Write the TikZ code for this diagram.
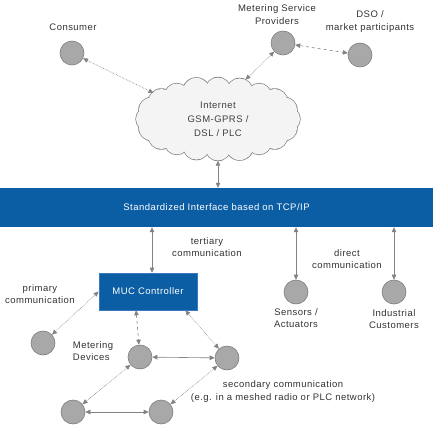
\documentclass[tikz,border=0pt]{standalone}
\usepackage{fontspec}
\setmainfont[LetterSpace=5]{Liberation Sans}
\usetikzlibrary{arrows.meta,shapes.geometric}

\definecolor{barblue}{RGB}{11,93,164}
\definecolor{boxline}{RGB}{60,120,190}
\definecolor{dotfill}{RGB}{168,168,168}
\definecolor{dotline}{RGB}{125,125,125}
\definecolor{linkgray}{RGB}{130,130,130}
\definecolor{labelgray}{RGB}{50,50,50}
\definecolor{cloudfill}{RGB}{244,244,244}

\tikzset{
  party/.style={circle,draw=dotline,fill=dotfill,line width=0.6pt,minimum size=24pt,inner sep=0pt},
  lbl/.style={font=\fontsize{9.5}{12.5}\selectfont,text=labelgray,align=center,inner sep=0.75pt},
  link/.style={draw=linkgray,line width=0.6pt,{Triangle[length=5pt,width=4.5pt]}-{Triangle[length=5pt,width=4.5pt]}},
  weak/.style={link,densely dotted},
}
\newcommand\cloudpuffs{0/12,18/12.5,36/13,54/12,72/13.5,90/12.5,108/13,126/12,144/13,162/12.5,
    180/12,198/12.5,216/13,234/12,252/13.5,270/12.5,288/13,306/12,324/13,342/12.5}

\begin{document}
\begin{tikzpicture}[x=1pt,y=1pt,yscale=-1,xscale=1]
\useasboundingbox (0,0) rectangle (433,439);

% Cloud: gray puffs, then slightly smaller light puffs on top
\foreach \a/\r in \cloudpuffs
  \fill [gray] (218,119) ++(\a:70 and 29) circle ({\r+0.7});
\foreach \a/\r in \cloudpuffs
  \fill [cloudfill] (218,119) ++(\a:70 and 29) circle (\r);
\fill [cloudfill] (218,119) ellipse (72 and 31);
\node [ellipse,minimum width=165pt,minimum height=83pt,inner sep=0pt,
       lbl,text=black!75,font=\fontsize{9.5}{14}\selectfont] (cloud) at (218,119)
      {Internet\\GSM-GPRS /\\DSL / PLC};

% Standardized interface bar
\node [fill=barblue,minimum width=433pt,minimum height=39pt,inner sep=0pt,
       text=white,font=\fontsize{9.5}{12}\selectfont] (bar) at (216.5,207.5)
      {Standardized Interface based on TCP/IP};

% MUC controller
\node [fill=barblue,draw=boxline,line width=0.6pt,minimum width=98pt,minimum height=37pt,
       inner sep=0pt,text=white,font=\fontsize{9.5}{12}\selectfont] (muc) at (148,291.5)
      {MUC Controller};

% Parties
\node [party] (cons) at (72,53) {};
\node [party] (msp)  at (283,43) {};
\node [party] (dso)  at (360,55) {};
\node [party] (sens) at (296,292) {};
\node [party] (indu) at (394,292) {};
\node [party] (prim) at (43,343) {};
\node [party] (devA) at (140,357) {};
\node [party] (devB) at (227,358) {};
\node [party] (devC) at (73,412) {};
\node [party] (devD) at (161,412) {};

% Labels
\node [lbl] (consL) at (73,27) {Consumer};
\node [lbl] (mspL)  at (277,14.5) {Metering Service\\Providers};
\node [lbl] (dsoL)  at (370,21.5) {DSO /\\market participants};
\node [lbl] (tertL) at (207,247) {tertiary\\communication};
\node [lbl] (dirL)  at (347,259) {direct\\communication};
\node [lbl] (sensL) at (296,318) {Sensors /\\Actuators};
\node [lbl] (induL) at (394,319) {Industrial\\Customers};
\node [lbl] (primL) at (40,294) {primary\\communication};
\node [lbl,align=left,anchor=west] (devL) at (72,351) {Metering\\Devices};
\node [lbl] (secL)  at (283,391.5) {secondary communication\\(e.g. in a meshed radio or PLC network)};

% Helper coordinates
\coordinate (tert) at ([xshift=4pt]muc.north);
\coordinate (mucA) at ([xshift=-12pt]muc.south);
\coordinate (mucB) at ([xshift=-12pt]muc.south east);

% Connectors
\draw [weak] (cons) -- (cloud.158);
\draw [weak] (msp) -- (cloud.55);
\draw [link,dashed] (msp) -- (dso);
\draw [link] (cloud.south) -- (cloud.south |- bar.north);
\draw [link] (tert |- bar.south) -- (tert);
\draw [link] (sens.north |- bar.south) -- (sens);
\draw [link] (indu.north |- bar.south) -- (indu);
\draw [weak] (prim) -- (muc.west);
\draw [link,dashed] (mucA) -- (devA);
\draw [weak] (mucB) -- (devB);
\draw [link] (devA) -- (devB);
\draw [weak] (devA) -- (devC);
\draw [weak] (devB) -- (devD);
\draw [link] (devC) -- (devD);

\end{tikzpicture}
\end{document}
